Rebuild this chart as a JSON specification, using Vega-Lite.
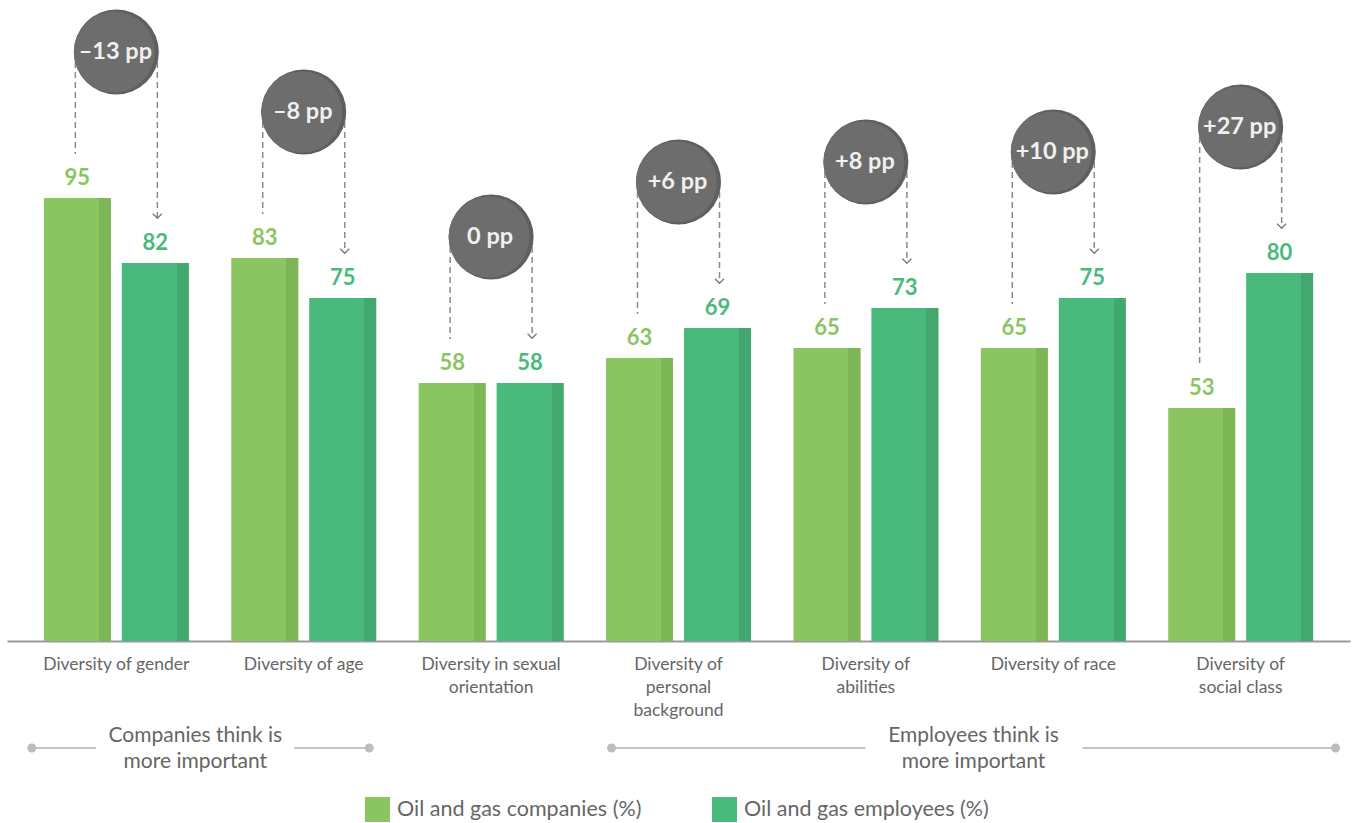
{
  "$schema": "https://vega.github.io/schema/vega-lite/v6.json",
  "width": 1343,
  "height": 641,
  "autosize": {"type": "none"},
  "padding": {"left": 7, "top": 0, "right": 4, "bottom": 182},
  "background": "white",
  "config": {"view": {"stroke": null}, "font": "Lato"},
  "datasets": {
    "survey": [
      {"category": "Diversity of gender", "companies": 95, "employees": 82, "gap": "–13 pp"},
      {"category": "Diversity of age", "companies": 83, "employees": 75, "gap": "–8 pp"},
      {"category": "Diversity in sexual orientation", "companies": 58, "employees": 58, "gap": "0 pp"},
      {"category": "Diversity of personal background", "companies": 63, "employees": 69, "gap": "+6 pp"},
      {"category": "Diversity of abilities", "companies": 65, "employees": 73, "gap": "+8 pp"},
      {"category": "Diversity of race", "companies": 65, "employees": 75, "gap": "+10 pp"},
      {"category": "Diversity of social class", "companies": 53, "employees": 80, "gap": "+27 pp"}
    ],
    "brackets": [
      {"side": "companies", "from": "Diversity of gender", "to": "Diversity of age", "label": "Companies think is\nmore important"},
      {"side": "employees", "from": "Diversity of personal background", "to": "Diversity of social class", "label": "Employees think is\nmore important"}
    ]
  },
  "data": {"name": "survey"},
  "encoding": {
    "x": {
      "field": "category",
      "type": "nominal",
      "sort": null,
      "title": null,
      "scale": {
        "domain": ["Diversity of gender", "Diversity of age", "Diversity in sexual orientation", "Diversity of personal background", "Diversity of abilities", "Diversity of race", "Diversity of social class"],
        "paddingInner": 0.147,
        "paddingOuter": 0.157
      },
      "axis": {
        "domainColor": "#9a9a9a",
        "domainWidth": 2,
        "ticks": false,
        "labelAngle": 0,
        "labelFontSize": 17.5,
        "labelColor": "#666666",
        "labelPadding": 14,
        "labelBaseline": "top",
        "labelLineHeight": 23,
        "labelFont": "Lato",
        "labelExpr": "datum.value == 'Diversity in sexual orientation' ? ['Diversity in sexual', 'orientation'] : datum.value == 'Diversity of personal background' ? ['Diversity of', 'personal', 'background'] : datum.value == 'Diversity of abilities' ? ['Diversity of', 'abilities'] : datum.value == 'Diversity of social class' ? ['Diversity of', 'social class'] : datum.value"
      }
    }
  },
  "layer": [
    {
      "transform": [{"fold": ["companies", "employees"], "as": ["series", "value"]}],
      "mark": {"type": "bar"},
      "encoding": {
        "xOffset": {"field": "series", "type": "nominal", "scale": {"paddingInner": 0.141, "paddingOuter": 0.096}},
        "y": {"field": "value", "type": "quantitative", "scale": {"domain": [6.4, 134.6], "zero": false, "nice": false}, "axis": null},
        "y2": {"datum": 6.4},
        "color": {
          "field": "series",
          "type": "nominal",
          "scale": {"domain": ["companies", "employees"], "range": ["#8bc562", "#4aba7c"]},
          "legend": {
            "orient": "none",
            "direction": "horizontal",
            "legendX": 358,
            "legendY": 797,
            "title": null,
            "symbolType": "square",
            "symbolSize": 625,
            "symbolStrokeWidth": 0,
            "labelFontSize": 21.5,
            "labelColor": "#666666",
            "labelFont": "Lato",
            "labelOffset": 7,
            "labelLimit": 0,
            "columnPadding": 70,
            "padding": 0,
            "labelExpr": "datum.label == 'companies' ? 'Oil and gas companies (%)' : 'Oil and gas employees (%)'"
          }
        }
      }
    },
    {
      "transform": [{"fold": ["companies", "employees"], "as": ["series", "value"]}],
      "mark": {"type": "bar"},
      "encoding": {
        "xOffset": {"field": "series", "type": "nominal"},
        "y": {"field": "value", "type": "quantitative", "axis": null},
        "y2": {"datum": 6.4},
        "color": {
          "condition": {
            "test": "datum.series == 'companies'",
            "value": {"gradient": "linear", "x1": 0, "y1": 0, "x2": 1, "y2": 0, "stops": [
              {"offset": 0, "color": "rgba(125,182,85,0)"},
              {"offset": 0.82, "color": "rgba(125,182,85,0)"},
              {"offset": 0.82, "color": "#7db655"},
              {"offset": 1, "color": "#7db655"}
            ]}
          },
          "value": {"gradient": "linear", "x1": 0, "y1": 0, "x2": 1, "y2": 0, "stops": [
            {"offset": 0, "color": "rgba(67,168,111,0)"},
            {"offset": 0.82, "color": "rgba(67,168,111,0)"},
            {"offset": 0.82, "color": "#43a86f"},
            {"offset": 1, "color": "#43a86f"}
          ]}
        }
      }
    },
    {
      "transform": [{"fold": ["companies", "employees"], "as": ["series", "value"]}],
      "mark": {"type": "text", "dy": -20, "fontSize": 22, "fontWeight": "bold", "baseline": "middle", "font": "Lato"},
      "encoding": {
        "xOffset": {"field": "series", "type": "nominal"},
        "y": {"field": "value", "type": "quantitative", "axis": null},
        "text": {"field": "value", "type": "quantitative"},
        "color": {"field": "series", "type": "nominal"}
      }
    },
    {
      "transform": [{"calculate": "max(datum.companies, datum.employees)", "as": "top"}],
      "mark": {"type": "rule", "xOffset": -41, "yOffset": -146, "y2Offset": -44, "strokeDash": [6, 4], "color": "#8a8a8a", "strokeWidth": 1.5},
      "encoding": {
        "y": {"field": "top", "type": "quantitative", "axis": null},
        "y2": {"field": "companies"}
      }
    },
    {
      "transform": [{"calculate": "max(datum.companies, datum.employees)", "as": "top"}],
      "mark": {"type": "rule", "xOffset": 41, "yOffset": -146, "y2Offset": -45, "strokeDash": [6, 4], "color": "#8a8a8a", "strokeWidth": 1.5},
      "encoding": {
        "y": {"field": "top", "type": "quantitative", "axis": null},
        "y2": {"field": "employees"}
      }
    },
    {
      "mark": {"type": "point", "shape": "M-1,-0.5L0,0.5L1,-0.5", "filled": false, "size": 81, "xOffset": 41, "yOffset": -47, "stroke": "#777777", "strokeWidth": 1.3, "opacity": 1},
      "encoding": {
        "y": {"field": "employees", "type": "quantitative", "axis": null}
      }
    },
    {
      "transform": [{"calculate": "max(datum.companies, datum.employees)", "as": "top"}],
      "mark": {"type": "point", "shape": "circle", "filled": true, "size": 7225, "yOffset": -146, "color": "#5f5f5f", "opacity": 1},
      "encoding": {
        "y": {"field": "top", "type": "quantitative", "axis": null}
      }
    },
    {
      "transform": [{"calculate": "max(datum.companies, datum.employees)", "as": "top"}],
      "mark": {"type": "point", "shape": "circle", "filled": true, "size": 6561, "xOffset": -2, "yOffset": -146, "color": "#6d6d6d", "opacity": 1},
      "encoding": {
        "y": {"field": "top", "type": "quantitative", "axis": null}
      }
    },
    {
      "transform": [{"calculate": "max(datum.companies, datum.employees)", "as": "top"}],
      "mark": {"type": "text", "yOffset": -146, "xOffset": -1, "fontSize": 23.5, "fontWeight": "bold", "color": "#f0f0f0", "baseline": "middle", "font": "Lato"},
      "encoding": {
        "y": {"field": "top", "type": "quantitative", "axis": null},
        "text": {"field": "gap", "type": "nominal"}
      }
    },
    {
      "data": {"name": "brackets"},
      "transform": [{"filter": "datum.side == 'companies'"}],
      "layer": [
        {
          "mark": {"type": "rule", "xOffset": -84.5, "x2Offset": -20.5, "color": "#c4c4c4", "strokeWidth": 2},
          "encoding": {"x": {"field": "from", "type": "nominal"}, "x2": {"field": "from"}, "y": {"datum": -15, "type": "quantitative"}}
        },
        {
          "mark": {"type": "rule", "xOffset": -9.5, "x2Offset": 65.5, "color": "#c4c4c4", "strokeWidth": 2},
          "encoding": {"x": {"field": "to", "type": "nominal"}, "x2": {"field": "to"}, "y": {"datum": -15, "type": "quantitative"}}
        },
        {
          "mark": {"type": "point", "shape": "circle", "filled": true, "size": 81, "xOffset": -84.5, "color": "#bdbdbd", "opacity": 1},
          "encoding": {"x": {"field": "from", "type": "nominal"}, "y": {"datum": -15, "type": "quantitative"}}
        },
        {
          "mark": {"type": "point", "shape": "circle", "filled": true, "size": 81, "xOffset": 65.5, "color": "#bdbdbd", "opacity": 1},
          "encoding": {"x": {"field": "to", "type": "nominal"}, "y": {"datum": -15, "type": "quantitative"}}
        },
        {
          "mark": {"type": "text", "xOffset": 79, "dy": -12, "lineBreak": "\n", "lineHeight": 26, "fontSize": 21, "color": "#666666", "baseline": "middle", "align": "center", "font": "Lato"},
          "encoding": {"x": {"field": "from", "type": "nominal"}, "y": {"datum": -15, "type": "quantitative"}, "text": {"field": "label", "type": "nominal"}}
        }
      ]
    },
    {
      "data": {"name": "brackets"},
      "transform": [{"filter": "datum.side == 'employees'"}],
      "layer": [
        {
          "mark": {"type": "rule", "xOffset": -67, "x2Offset": 187, "color": "#c4c4c4", "strokeWidth": 2},
          "encoding": {"x": {"field": "from", "type": "nominal"}, "x2": {"field": "from"}, "y": {"datum": -15, "type": "quantitative"}}
        },
        {
          "mark": {"type": "rule", "xOffset": -158, "x2Offset": 95, "color": "#c4c4c4", "strokeWidth": 2},
          "encoding": {"x": {"field": "to", "type": "nominal"}, "x2": {"field": "to"}, "y": {"datum": -15, "type": "quantitative"}}
        },
        {
          "mark": {"type": "point", "shape": "circle", "filled": true, "size": 81, "xOffset": -67, "color": "#bdbdbd", "opacity": 1},
          "encoding": {"x": {"field": "from", "type": "nominal"}, "y": {"datum": -15, "type": "quantitative"}}
        },
        {
          "mark": {"type": "point", "shape": "circle", "filled": true, "size": 81, "xOffset": 95, "color": "#bdbdbd", "opacity": 1},
          "encoding": {"x": {"field": "to", "type": "nominal"}, "y": {"datum": -15, "type": "quantitative"}}
        },
        {
          "mark": {"type": "text", "xOffset": 295, "dy": -12, "lineBreak": "\n", "lineHeight": 26, "fontSize": 21, "color": "#666666", "baseline": "middle", "align": "center", "font": "Lato"},
          "encoding": {"x": {"field": "from", "type": "nominal"}, "y": {"datum": -15, "type": "quantitative"}, "text": {"field": "label", "type": "nominal"}}
        }
      ]
    }
  ]
}
